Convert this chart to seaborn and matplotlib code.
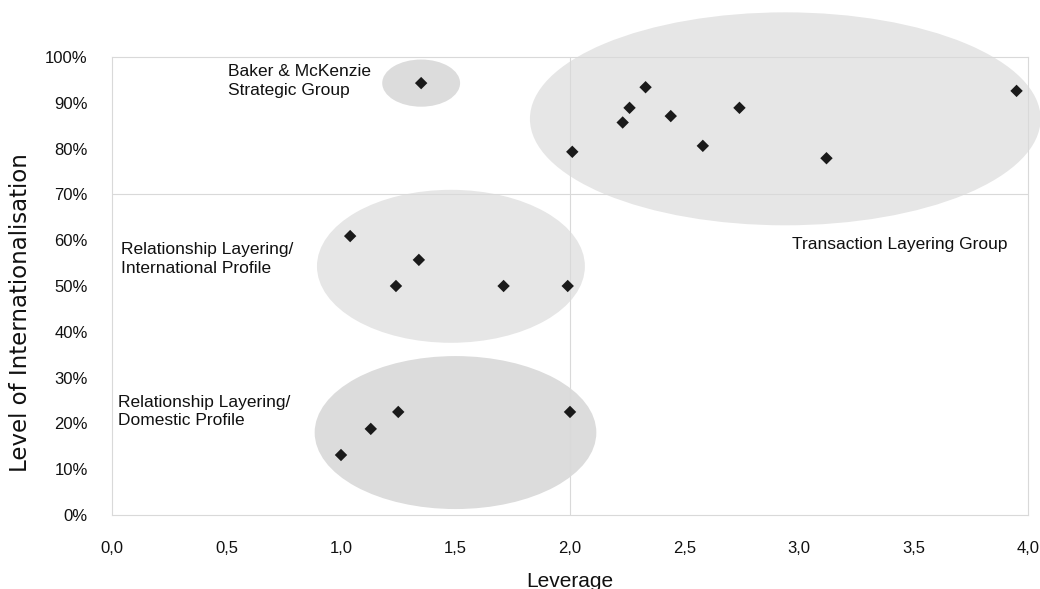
import matplotlib
matplotlib.use("Agg")
import matplotlib.pyplot as plt
import seaborn as sns
import pandas as pd
from matplotlib.patches import Ellipse
from matplotlib.ticker import FuncFormatter, MultipleLocator

# Data
leverage = [1.35,
            2.01, 2.23, 2.26, 2.33, 2.44, 2.58, 2.74, 3.12, 3.95,
            1.04, 1.34, 1.24, 1.71, 1.99,
            1.00, 1.13, 1.25, 2.00]
internationalisation = [0.943,
                        0.793, 0.857, 0.889, 0.934, 0.871, 0.806, 0.889, 0.779, 0.926,
                        0.609, 0.557, 0.500, 0.500, 0.500,
                        0.131, 0.188, 0.225, 0.225]

groups = ["Baker & McKenzie\nStrategic Group",
          "Transaction Layering Group",
          "Relationship Layering/\nInternational Profile",
          "Relationship Layering/\nDomestic Profile"]
group_centers_x = [1.35, 2.94, 1.48, 1.50]
group_centers_y = [0.943, 0.865, 0.543, 0.180]
group_widths = [0.34, 2.23, 1.17, 1.23]
group_heights = [0.103, 0.465, 0.334, 0.334]
group_colors = ["#dcdcdc", "#e6e6e6", "#e6e6e6", "#dcdcdc"]
label_x = [0.505, 2.97, 0.04, 0.025]
label_y = [0.984, 0.607, 0.596, 0.263]

df = pd.DataFrame({"Leverage": leverage, "Internationalisation": internationalisation})

sns.set_style("white")
plt.rcParams["font.family"] = ["Liberation Sans", "DejaVu Sans"]

fig = plt.figure(figsize=(10.4, 5.89), dpi=100)
ax = fig.add_axes([112/1040, 74/589, 916/1040, 458/589])

for cx, cy, w, h, c in zip(group_centers_x, group_centers_y, group_widths, group_heights, group_colors):
    e = Ellipse((cx, cy), w, h, facecolor=c, edgecolor="none", zorder=0, clip_on=False)
    ax.add_patch(e)

ax.axvline(2.0, color="#d9d9d9", lw=0.8, zorder=1)
ax.axhline(0.7, color="#d9d9d9", lw=0.8, zorder=1)

sns.scatterplot(data=df, x="Leverage", y="Internationalisation", marker="D",
                color="#1a1a1a", s=40, edgecolor="none", ax=ax, zorder=3)

for t, x, y in zip(groups, label_x, label_y):
    ax.text(x, y, t, fontsize=12.5, va="top", ha="left", color="#111111", linespacing=1.3)

ax.set_xlim(0, 4)
ax.set_ylim(0, 1.0)
ax.xaxis.set_major_locator(MultipleLocator(0.5))
ax.yaxis.set_major_locator(MultipleLocator(0.1))
ax.xaxis.set_major_formatter(FuncFormatter(lambda v, p: f"{v:.1f}".replace(".", ",")))
ax.yaxis.set_major_formatter(FuncFormatter(lambda v, p: f"{v*100:.0f}%"))

for s in ax.spines.values():
    s.set_color("#d9d9d9")
    s.set_linewidth(0.8)
ax.tick_params(axis="both", which="major", length=4.5, width=0.8, color="#d9d9d9",
               labelsize=12, labelcolor="#111111", direction="out")
ax.tick_params(axis="x", pad=14.5)
ax.tick_params(axis="y", pad=13)

ax.set_xlabel("Leverage", fontsize=15, color="#111111", labelpad=11)
ax.set_ylabel("Level of Internationalisation", fontsize=16.5, color="#111111",
              family=["DejaVu Sans"], va="center")
ax.yaxis.set_label_coords(-0.1, 0.443)

fig.savefig("out.png", dpi=100)
